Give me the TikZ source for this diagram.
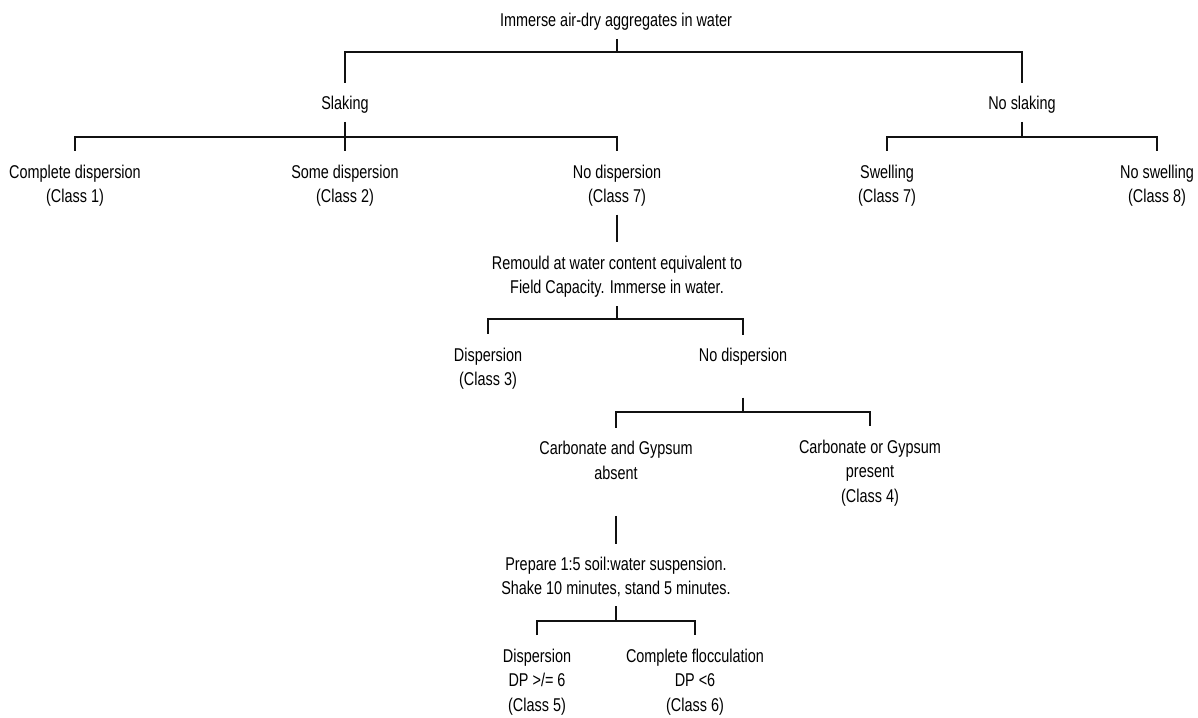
\documentclass[tikz,border=0pt]{standalone}
\usepackage{fontspec}
\setmainfont{Liberation Sans}[FakeStretch=0.78]
\usepackage{xcolor}
\usetikzlibrary{positioning, calc}
\definecolor{LineGrey}{HTML}{111111}

\begin{document}
\begin{tikzpicture}[x=1pt, y=-1pt,
    stage/.style={align=center, inner sep=0pt, text=black,
                  font=\fontsize{18.5}{24.5}\selectfont},
    link/.style={draw=LineGrey, line width=1.2pt}
]
    \useasboundingbox (0,0) rectangle (1198,717);

    % Texts of the key
    \node[stage] (root)   at (616,22)    {Immerse air-dry aggregates in water};
    \node[stage] (slak)   at (345,105)   {Slaking};
    \node[stage] (noslak) at (1022,105)  {No slaking};
    \node[stage] (cdisp)  at (75,185.5)  {Complete dispersion\\(Class 1)};
    \node[stage] (sdisp)  at (345,185.5) {Some dispersion\\(Class 2)};
    \node[stage] (ndisp)  at (617,185.5) {No dispersion\\(Class 7)};
    \node[stage] (swell)  at (887,185.5) {Swelling\\(Class 7)};
    \node[stage] (nswell) at (1157,185.5){No swelling\\(Class 8)};
    \node[stage] (remould) at (617,276.5) {Remould at water content equivalent to\\Field Capacity. Immerse in water.};
    \node[stage] (disp3)  at (488,368.5) {Dispersion\\(Class 3)};
    \node[stage] (ndisp2) at (743,357)   {No dispersion};
    \node[stage] (cgabs)  at (616,460.5) {Carbonate and Gypsum\\absent};
    \node[stage] (cgpres) at (870,473)   {Carbonate or Gypsum\\present\\(Class 4)};
    \node[stage] (prep)   at (616,577)   {Prepare 1:5 soil:water suspension.\\Shake 10 minutes, stand 5 minutes.};
    \node[stage] (disp5)  at (537,682)   {Dispersion\\DP >/= 6\\(Class 5)};
    \node[stage] (floc6)  at (695,682)   {Complete flocculation\\DP <6\\(Class 6)};

    % Junctions of the branches
    \coordinate (j0) at (617,52);
    \coordinate (j1) at (345,137);
    \coordinate (j2) at (1022,137);
    \coordinate (j3) at (617,319);
    \coordinate (j4) at (743,412);
    \coordinate (j5) at (616,621);

    % Immerse air-dry aggregates
    \draw[link] ([yshift=-8pt]root.south -| j0) -- (j0);
    \draw[link] ([yshift=13.6pt]slak.north) -- (slak |- j0) -- (noslak |- j0)
        -- ([yshift=13.6pt]noslak.north);

    % Slaking
    \draw[link] ([yshift=-8pt]slak.south) -- (j1);
    \draw[link] ([yshift=13.6pt]cdisp.north) -- (cdisp |- j1) -- (ndisp |- j1)
        -- ([yshift=13.6pt]ndisp.north);
    \draw[link] (sdisp |- j1) -- ([yshift=13.6pt]sdisp.north);

    % No slaking
    \draw[link] ([yshift=-8pt]noslak.south) -- (j2);
    \draw[link] ([yshift=13.6pt]swell.north) -- (swell |- j2) -- (nswell |- j2)
        -- ([yshift=13.6pt]nswell.north);

    % Remoulding
    \draw[link] ([yshift=-8pt]ndisp.south) -- ([yshift=13.6pt]remould.north);
    \draw[link] ([yshift=-8.7pt]remould.south) -- (j3);
    \draw[link] ([yshift=13.6pt]disp3.north) -- (disp3 |- j3) -- (ndisp2 |- j3)
        -- ([yshift=13.6pt]ndisp2.north);

    % Carbonate and gypsum
    \draw[link] ([yshift=-31.7pt]ndisp2.south) -- (j4);
    \draw[link] ([yshift=13.6pt]cgabs.north) -- (cgabs |- j4) -- (cgpres |- j4)
        -- ([yshift=13.6pt]cgpres.north);

    % Suspension test
    \draw[link] ([yshift=-36pt]cgabs.south) -- ([yshift=12.6pt]prep.north);
    \draw[link] ([yshift=-8.7pt]prep.south) -- (j5);
    \draw[link] ([yshift=13.6pt]disp5.north) -- (disp5 |- j5) -- (floc6 |- j5)
        -- ([yshift=13.6pt]floc6.north);
\end{tikzpicture}
\end{document}
